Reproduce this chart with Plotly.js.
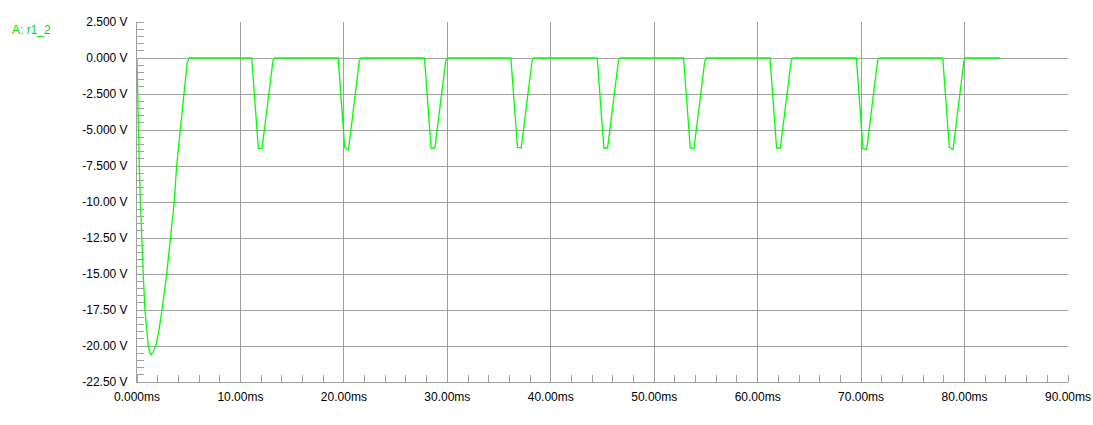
<!DOCTYPE html>
<html>
<head>
<meta charset="utf-8">
<script src="https://cdn.plot.ly/plotly-3.0.1.min.js"></script>
<style>
  html, body { margin: 0; padding: 0; background: #ffffff; }
  #chart { width: 1093px; height: 425px; }
</style>
</head>
<body>
<div id="chart"></div>
<script>
// Series name
var seriesName = "A: r1_2";

// Initial transient (time in ms, voltage in V)
var transientT = [0, 0.05, 0.12, 0.22, 0.33, 0.45, 0.6, 0.77, 0.92, 1.09, 1.25, 1.38, 1.55, 1.81, 2.1, 2.42, 2.87, 3.22, 3.6, 3.83, 4.19, 4.48, 4.67, 4.85, 5.06];
var transientV = [0, -2.5, -5, -7.5, -10, -12.5, -15, -17.5, -19, -20, -20.5, -20.6, -20.4, -20, -19, -17.5, -15, -12.5, -10, -7.5, -5, -2.5, -1.25, -0.3, 0];

// Periodic dips (time in ms, voltage in V)
var dipT = [
  11.09, 11.73, 12.09, 13.14, 13.31,
  19.44, 20.08, 20.44, 21.49, 21.66,
  27.79, 28.43, 28.79, 29.84, 30.01,
  36.14, 36.78, 37.14, 38.19, 38.36,
  44.49, 45.13, 45.49, 46.54, 46.71,
  52.84, 53.48, 53.84, 54.89, 55.06,
  61.19, 61.83, 62.19, 63.24, 63.41,
  69.54, 70.18, 70.54, 71.59, 71.76,
  77.89, 78.53, 78.89, 79.94, 80.11
];
var dipV = [
  0, -6.27, -6.27, -0.2, 0,
  0, -6.2, -6.4, -0.2, 0,
  0, -6.25, -6.25, -0.2, 0,
  0, -6.2, -6.25, -0.2, 0,
  0, -6.25, -6.25, -0.2, 0,
  0, -6.25, -6.3, -0.2, 0,
  0, -6.25, -6.25, -0.2, 0,
  0, -6.3, -6.35, -0.2, 0,
  0, -6.2, -6.35, -0.2, 0
];

// End of record
var endT = [83.4];
var endV = [0];

// Axis ticks
var xTickVals = [0, 10, 20, 30, 40, 50, 60, 70, 80, 90];
var xTickText = ["0.000ms", "10.00ms", "20.00ms", "30.00ms", "40.00ms", "50.00ms", "60.00ms", "70.00ms", "80.00ms", "90.00ms"];
var yTickVals = [2.5, 0, -2.5, -5, -7.5, -10, -12.5, -15, -17.5, -20, -22.5];
var yTickText = ["2.500 V", "0.000 V", "-2.500 V", "-5.000 V", "-7.500 V", "-10.00 V", "-12.50 V", "-15.00 V", "-17.50 V", "-20.00 V", "-22.50 V"];

var t = transientT.concat(dipT, endT);
var v = transientV.concat(dipV, endV);

var gridCol = "#a0a0a0";
var font = { family: "Liberation Sans, Arial, sans-serif", size: 12, color: "#000000" };

var trace = {
  x: t, y: v, type: "scatter", mode: "lines", name: seriesName,
  line: { color: "#00ff00", width: 1.3 },
  hoverinfo: "x+y"
};

var layout = {
  width: 1093, height: 425,
  margin: { l: 137, r: 25, t: 22, b: 43, pad: 0 },
  paper_bgcolor: "#ffffff", plot_bgcolor: "#ffffff",
  showlegend: false,
  font: font,
  xaxis: {
    range: [0, 90], tickmode: "array", tickvals: xTickVals, ticktext: xTickText,
    showgrid: true, gridcolor: gridCol, gridwidth: 1,
    showline: true, linecolor: gridCol, linewidth: 1, zeroline: false,
    ticks: "", tickfont: font, ticklabelstandoff: 4,
    minor: { dtick: 2, tick0: 0, ticks: "inside", ticklen: 7, tickcolor: gridCol, tickwidth: 1, showgrid: false },
    fixedrange: true
  },
  yaxis: {
    range: [-22.5, 2.5], tickmode: "array", tickvals: yTickVals, ticktext: yTickText,
    showgrid: true, gridcolor: gridCol, gridwidth: 1,
    showline: true, linecolor: gridCol, linewidth: 1, zeroline: false,
    ticks: "", tickfont: font, ticklabelstandoff: 6,
    minor: { dtick: 0.5, tick0: 0, ticks: "inside", ticklen: 7, tickcolor: gridCol, tickwidth: 1, showgrid: false },
    fixedrange: true
  },
  annotations: [{
    text: seriesName, xref: "paper", yref: "paper",
    x: (10 - 137) / 931, y: (382 - 30) / 360,
    xanchor: "left", yanchor: "middle", showarrow: false,
    font: { family: "Liberation Sans, Arial, sans-serif", size: 12, color: "#00dd00" }
  }]
};

Plotly.newPlot("chart", [trace], layout, { displayModeBar: false, staticPlot: true });
</script>
</body>
</html>
